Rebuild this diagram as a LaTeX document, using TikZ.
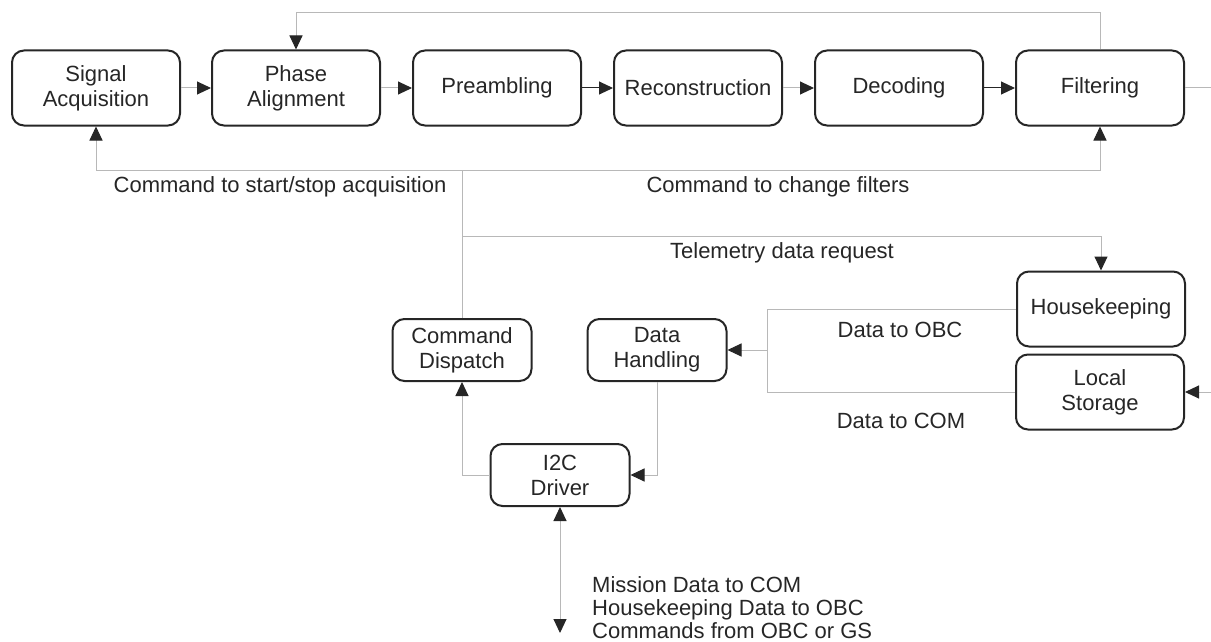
\documentclass[tikz,border=0pt]{standalone}
\usepackage{fontspec}
\setmainfont{Liberation Sans}
\usetikzlibrary{arrows.meta}
\begin{document}
\begin{tikzpicture}[x=1pt,y=-1pt,
  txt/.style={text=black!85, font=\fontsize{22}{25}\selectfont, inner sep=0pt},
  box/.style={txt, draw=black!85, line width=2pt, rounded corners=12pt, align=center},
  topbox/.style={box, minimum width=168pt, minimum height=75pt},
  sidebox/.style={box, minimum width=168pt, minimum height=75pt},
  midbox/.style={box, minimum width=139pt, minimum height=62pt},
  link/.style={draw=black!28, line width=1pt},
  darklink/.style={draw=black!85, line width=1pt},
  tip/.style={-{Triangle[length=14pt,width=13pt,color=black!85]}},
  tips/.style={{Triangle[length=14pt,width=13pt,color=black!85]}-{Triangle[length=14pt,width=13pt,color=black!85]}}
]
\useasboundingbox (0,0) rectangle (1211,642);

% processing chain
\node[topbox] (sa)  at (96,88)   {Signal\\Acquisition};
\node[topbox] (pa)  at (296,88)  {Phase\\Alignment};
\node[topbox] (pre) at (497,88)  {Preambling};
\node[topbox] (rec) at (698,88)  {Reconstruction};
\node[topbox] (dec) at (899,88)  {Decoding};
\node[topbox] (fil) at (1100,88) {Filtering};

% storage side
\node[sidebox] (hk) at (1101,309) {Housekeeping};
\node[sidebox] (ls) at (1100,392) {Local\\Storage};

% control and data handling
\node[midbox] (cd)  at (462,350) {Command\\Dispatch};
\node[midbox] (dh)  at (657,350) {Data\\Handling};
\node[midbox] (i2c) at (560,475) {I2C\\Driver};

% helper points
\coordinate (loopL)  at (296,13);
\coordinate (loopR)  at (1100,13);
\coordinate (cmdbus) at (462,170);
\coordinate (telem)  at (462,236);
\coordinate (outR)   at (1211,88);
\coordinate (inR)    at (1211,392);
\coordinate (merge)  at (767,350);
\coordinate (bus)    at (560,633);

% chain connectors
\draw[link,tip]     (sa) -- (pa);
\draw[link,tip]     (pa) -- (pre);
\draw[darklink,tip] (pre) -- (rec);
\draw[link,tip]     (rec) -- (dec);
\draw[darklink,tip] (dec) -- (fil);
\draw[link]         (fil) -- (outR);

% feedback loop over the chain
\draw[link,tip] (fil.north) -- (loopR) -- (loopL) -- (pa.north);

% commands from dispatch
\draw[link] (cd.north) -- (cmdbus);
\draw[link,tip] (cmdbus) -| (sa.south);
\draw[link,tip] (cmdbus) -| (fil.south);
\draw[link,tip] (telem) -| (hk.north);

% data towards data handling
\draw[link] (hk.west) -| (merge);
\draw[link] (ls.west) -| (merge);
\draw[link,tip] (merge) -- (dh.east);
\draw[link,tip] (inR) -- (ls.east);

% I2C links
\draw[link,tip] (i2c.west) -| (cd.south);
\draw[link,tip] (dh.south) |- (i2c.east);
\draw[link,tips] (i2c.south) -- (bus);

% labels
\node[txt] (l1) at (280,187) {Command to start/stop acquisition};
\node[txt] (l2) at (778,187) {Command to change filters};
\node[txt] (l3) at (782,253) {Telemetry data request};
\node[txt] (l4) at (900,330) {Data to OBC};
\node[txt] (l5) at (901,421) {Data to COM};
\node[txt, align=left, anchor=west, font=\fontsize{22}{23}\selectfont] (l6) at (592,608)
  {Mission Data to COM\\Housekeeping Data to OBC\\Commands from OBC or GS};
\end{tikzpicture}
\end{document}
